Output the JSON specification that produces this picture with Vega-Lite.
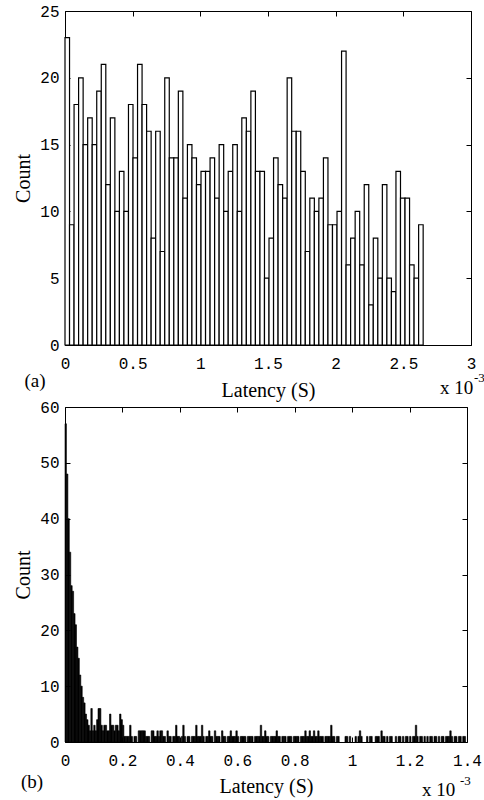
{
  "$schema": "https://vega.github.io/schema/vega-lite/v6.json",
  "padding": {"left": 13, "top": 2, "right": 0, "bottom": 0},
  "background": "white",
  "spacing": -3,
  "datasets": {
    "a": [
      {"lo":0,"hi":0.0335,"n":23},{"lo":0.0335,"hi":0.067,"n":9},{"lo":0.067,"hi":0.1005,"n":18},{"lo":0.1005,"hi":0.134,"n":20},
      {"lo":0.134,"hi":0.1675,"n":15},{"lo":0.1675,"hi":0.201,"n":17},{"lo":0.201,"hi":0.2345,"n":15},{"lo":0.2345,"hi":0.268,"n":19},
      {"lo":0.268,"hi":0.3015,"n":21},{"lo":0.3015,"hi":0.335,"n":12},{"lo":0.335,"hi":0.3685,"n":17},{"lo":0.3685,"hi":0.402,"n":10},
      {"lo":0.402,"hi":0.4355,"n":13},{"lo":0.4355,"hi":0.469,"n":10},{"lo":0.469,"hi":0.5025,"n":18},{"lo":0.5025,"hi":0.536,"n":14},
      {"lo":0.536,"hi":0.5695,"n":21},{"lo":0.5695,"hi":0.603,"n":18},{"lo":0.603,"hi":0.6365,"n":16},{"lo":0.6365,"hi":0.67,"n":8},
      {"lo":0.67,"hi":0.7035,"n":16},{"lo":0.7035,"hi":0.737,"n":7},{"lo":0.737,"hi":0.7705,"n":20},{"lo":0.7705,"hi":0.804,"n":14},
      {"lo":0.804,"hi":0.8375,"n":14},{"lo":0.8375,"hi":0.871,"n":19},{"lo":0.871,"hi":0.9045,"n":11},{"lo":0.9045,"hi":0.938,"n":15},
      {"lo":0.938,"hi":0.9715,"n":14},{"lo":0.9715,"hi":1.005,"n":12},{"lo":1.005,"hi":1.0385,"n":13},{"lo":1.0385,"hi":1.072,"n":13},
      {"lo":1.072,"hi":1.1055,"n":14},{"lo":1.1055,"hi":1.139,"n":11},{"lo":1.139,"hi":1.1725,"n":15},{"lo":1.1725,"hi":1.206,"n":10},
      {"lo":1.206,"hi":1.2395,"n":13},{"lo":1.2395,"hi":1.273,"n":15},{"lo":1.273,"hi":1.3065,"n":10},{"lo":1.3065,"hi":1.34,"n":17},
      {"lo":1.34,"hi":1.3735,"n":16},{"lo":1.3735,"hi":1.407,"n":19},{"lo":1.407,"hi":1.4405,"n":13},{"lo":1.4405,"hi":1.474,"n":13},
      {"lo":1.474,"hi":1.5075,"n":5},{"lo":1.5075,"hi":1.541,"n":8},{"lo":1.541,"hi":1.5745,"n":14},{"lo":1.5745,"hi":1.608,"n":12},
      {"lo":1.608,"hi":1.6415,"n":11},{"lo":1.6415,"hi":1.675,"n":20},{"lo":1.675,"hi":1.7085,"n":16},{"lo":1.7085,"hi":1.742,"n":16},
      {"lo":1.742,"hi":1.7755,"n":13},{"lo":1.7755,"hi":1.809,"n":7},{"lo":1.809,"hi":1.8425,"n":11},{"lo":1.8425,"hi":1.876,"n":10},
      {"lo":1.876,"hi":1.9095,"n":11},{"lo":1.9095,"hi":1.943,"n":14},{"lo":1.943,"hi":1.9765,"n":9},{"lo":1.9765,"hi":2.01,"n":9},
      {"lo":2.01,"hi":2.0435,"n":10},{"lo":2.0435,"hi":2.077,"n":22},{"lo":2.077,"hi":2.1105,"n":6},{"lo":2.1105,"hi":2.144,"n":8},
      {"lo":2.144,"hi":2.1775,"n":10},{"lo":2.1775,"hi":2.211,"n":6},{"lo":2.211,"hi":2.2445,"n":12},{"lo":2.2445,"hi":2.278,"n":3},
      {"lo":2.278,"hi":2.3115,"n":8},{"lo":2.3115,"hi":2.345,"n":5},{"lo":2.345,"hi":2.3785,"n":12},{"lo":2.3785,"hi":2.412,"n":5},
      {"lo":2.412,"hi":2.4455,"n":4},{"lo":2.4455,"hi":2.479,"n":13},{"lo":2.479,"hi":2.5125,"n":11},{"lo":2.5125,"hi":2.546,"n":11},
      {"lo":2.546,"hi":2.5795,"n":6},{"lo":2.5795,"hi":2.613,"n":5},{"lo":2.613,"hi":2.6465,"n":9}
    ],
    "b": [
      {"lo":0,"hi":0.005,"n":57},{"lo":0.005,"hi":0.01,"n":48},{"lo":0.01,"hi":0.015,"n":40},{"lo":0.015,"hi":0.02,"n":34},
      {"lo":0.02,"hi":0.025,"n":28},{"lo":0.025,"hi":0.03,"n":27},{"lo":0.03,"hi":0.035,"n":23},{"lo":0.035,"hi":0.04,"n":21},
      {"lo":0.04,"hi":0.045,"n":17},{"lo":0.045,"hi":0.05,"n":15},{"lo":0.05,"hi":0.055,"n":12},{"lo":0.055,"hi":0.06,"n":10},
      {"lo":0.06,"hi":0.065,"n":8},{"lo":0.065,"hi":0.07,"n":7},{"lo":0.07,"hi":0.075,"n":5},{"lo":0.075,"hi":0.08,"n":4},
      {"lo":0.08,"hi":0.085,"n":3},{"lo":0.085,"hi":0.09,"n":2},{"lo":0.09,"hi":0.095,"n":6},{"lo":0.095,"hi":0.1,"n":2},
      {"lo":0.1,"hi":0.105,"n":3},{"lo":0.105,"hi":0.11,"n":2},{"lo":0.11,"hi":0.115,"n":4},{"lo":0.115,"hi":0.12,"n":6},
      {"lo":0.12,"hi":0.125,"n":6},{"lo":0.125,"hi":0.13,"n":3},{"lo":0.13,"hi":0.135,"n":2},{"lo":0.135,"hi":0.14,"n":3},
      {"lo":0.14,"hi":0.145,"n":3},{"lo":0.145,"hi":0.15,"n":2},{"lo":0.15,"hi":0.155,"n":2},{"lo":0.155,"hi":0.16,"n":5},
      {"lo":0.16,"hi":0.165,"n":3},{"lo":0.165,"hi":0.17,"n":3},{"lo":0.17,"hi":0.175,"n":2},{"lo":0.175,"hi":0.18,"n":3},
      {"lo":0.18,"hi":0.185,"n":3},{"lo":0.185,"hi":0.19,"n":2},{"lo":0.19,"hi":0.195,"n":5},{"lo":0.195,"hi":0.2,"n":4},
      {"lo":0.2,"hi":0.205,"n":3},{"lo":0.205,"hi":0.21,"n":1},{"lo":0.21,"hi":0.215,"n":1},{"lo":0.215,"hi":0.22,"n":1},
      {"lo":0.22,"hi":0.225,"n":1},{"lo":0.225,"hi":0.23,"n":3},{"lo":0.23,"hi":0.235,"n":1},{"lo":0.24,"hi":0.245,"n":1},
      {"lo":0.245,"hi":0.25,"n":1},{"lo":0.255,"hi":0.26,"n":2},{"lo":0.26,"hi":0.265,"n":2},{"lo":0.265,"hi":0.27,"n":2},
      {"lo":0.27,"hi":0.275,"n":2},{"lo":0.275,"hi":0.28,"n":2},{"lo":0.28,"hi":0.285,"n":1},{"lo":0.285,"hi":0.29,"n":1},
      {"lo":0.29,"hi":0.295,"n":1},{"lo":0.3,"hi":0.305,"n":2},{"lo":0.305,"hi":0.31,"n":2},{"lo":0.31,"hi":0.315,"n":1},
      {"lo":0.315,"hi":0.32,"n":1},{"lo":0.32,"hi":0.325,"n":2},{"lo":0.325,"hi":0.33,"n":1},{"lo":0.33,"hi":0.335,"n":2},
      {"lo":0.335,"hi":0.34,"n":2},{"lo":0.34,"hi":0.345,"n":1},{"lo":0.345,"hi":0.35,"n":1},{"lo":0.355,"hi":0.36,"n":2},
      {"lo":0.36,"hi":0.365,"n":1},{"lo":0.365,"hi":0.37,"n":1},{"lo":0.375,"hi":0.38,"n":1},{"lo":0.38,"hi":0.385,"n":1},
      {"lo":0.385,"hi":0.39,"n":3},{"lo":0.39,"hi":0.395,"n":1},{"lo":0.395,"hi":0.4,"n":1},{"lo":0.405,"hi":0.41,"n":1},
      {"lo":0.41,"hi":0.415,"n":3},{"lo":0.415,"hi":0.42,"n":1},{"lo":0.425,"hi":0.43,"n":1},{"lo":0.43,"hi":0.435,"n":1},
      {"lo":0.44,"hi":0.445,"n":1},{"lo":0.445,"hi":0.45,"n":1},{"lo":0.45,"hi":0.455,"n":1},{"lo":0.455,"hi":0.46,"n":3},
      {"lo":0.46,"hi":0.465,"n":1},{"lo":0.465,"hi":0.47,"n":1},{"lo":0.47,"hi":0.475,"n":1},{"lo":0.475,"hi":0.48,"n":3},
      {"lo":0.48,"hi":0.485,"n":1},{"lo":0.49,"hi":0.495,"n":1},{"lo":0.495,"hi":0.5,"n":1},{"lo":0.5,"hi":0.505,"n":2},
      {"lo":0.505,"hi":0.51,"n":1},{"lo":0.51,"hi":0.515,"n":1},{"lo":0.52,"hi":0.525,"n":2},{"lo":0.525,"hi":0.53,"n":1},
      {"lo":0.53,"hi":0.535,"n":1},{"lo":0.535,"hi":0.54,"n":1},{"lo":0.545,"hi":0.55,"n":2},{"lo":0.55,"hi":0.555,"n":1},
      {"lo":0.555,"hi":0.56,"n":1},{"lo":0.565,"hi":0.57,"n":1},{"lo":0.57,"hi":0.575,"n":1},{"lo":0.575,"hi":0.58,"n":2},
      {"lo":0.58,"hi":0.585,"n":1},{"lo":0.585,"hi":0.59,"n":1},{"lo":0.59,"hi":0.595,"n":1},{"lo":0.595,"hi":0.6,"n":2},
      {"lo":0.6,"hi":0.605,"n":1},{"lo":0.61,"hi":0.615,"n":1},{"lo":0.615,"hi":0.62,"n":1},{"lo":0.62,"hi":0.625,"n":1},
      {"lo":0.625,"hi":0.63,"n":1},{"lo":0.635,"hi":0.64,"n":1},{"lo":0.64,"hi":0.645,"n":1},{"lo":0.645,"hi":0.65,"n":1},
      {"lo":0.65,"hi":0.655,"n":1},{"lo":0.66,"hi":0.665,"n":1},{"lo":0.665,"hi":0.67,"n":1},{"lo":0.67,"hi":0.675,"n":1},
      {"lo":0.675,"hi":0.68,"n":1},{"lo":0.68,"hi":0.685,"n":3},{"lo":0.685,"hi":0.69,"n":1},{"lo":0.69,"hi":0.695,"n":1},
      {"lo":0.695,"hi":0.7,"n":2},{"lo":0.7,"hi":0.705,"n":1},{"lo":0.705,"hi":0.71,"n":1},{"lo":0.715,"hi":0.72,"n":1},
      {"lo":0.72,"hi":0.725,"n":1},{"lo":0.725,"hi":0.73,"n":1},{"lo":0.73,"hi":0.735,"n":1},{"lo":0.735,"hi":0.74,"n":2},
      {"lo":0.74,"hi":0.745,"n":1},{"lo":0.745,"hi":0.75,"n":1},{"lo":0.755,"hi":0.76,"n":1},{"lo":0.76,"hi":0.765,"n":1},
      {"lo":0.765,"hi":0.77,"n":1},{"lo":0.775,"hi":0.78,"n":1},{"lo":0.78,"hi":0.785,"n":1},{"lo":0.785,"hi":0.79,"n":1},
      {"lo":0.795,"hi":0.8,"n":1},{"lo":0.8,"hi":0.805,"n":1},{"lo":0.805,"hi":0.81,"n":1},{"lo":0.81,"hi":0.815,"n":1},
      {"lo":0.82,"hi":0.825,"n":1},{"lo":0.825,"hi":0.83,"n":1},{"lo":0.83,"hi":0.835,"n":1},{"lo":0.835,"hi":0.84,"n":2},
      {"lo":0.84,"hi":0.845,"n":1},{"lo":0.845,"hi":0.85,"n":1},{"lo":0.85,"hi":0.855,"n":2},{"lo":0.855,"hi":0.86,"n":1},
      {"lo":0.86,"hi":0.865,"n":1},{"lo":0.865,"hi":0.87,"n":2},{"lo":0.87,"hi":0.875,"n":1},{"lo":0.875,"hi":0.88,"n":1},
      {"lo":0.88,"hi":0.885,"n":2},{"lo":0.885,"hi":0.89,"n":1},{"lo":0.89,"hi":0.895,"n":1},{"lo":0.895,"hi":0.9,"n":1},
      {"lo":0.905,"hi":0.91,"n":1},{"lo":0.91,"hi":0.915,"n":1},{"lo":0.915,"hi":0.92,"n":1},{"lo":0.92,"hi":0.925,"n":1},
      {"lo":0.925,"hi":0.93,"n":3},{"lo":0.93,"hi":0.935,"n":1},{"lo":0.935,"hi":0.94,"n":1},{"lo":0.945,"hi":0.95,"n":1},
      {"lo":0.95,"hi":0.955,"n":1},{"lo":0.975,"hi":0.98,"n":1},{"lo":0.98,"hi":0.985,"n":1},{"lo":0.99,"hi":0.995,"n":1},
      {"lo":1.01,"hi":1.015,"n":1},{"lo":1.02,"hi":1.025,"n":1},{"lo":1.025,"hi":1.03,"n":2},{"lo":1.03,"hi":1.035,"n":1},
      {"lo":1.05,"hi":1.055,"n":1},{"lo":1.06,"hi":1.065,"n":1},{"lo":1.065,"hi":1.07,"n":1},{"lo":1.08,"hi":1.085,"n":1},
      {"lo":1.085,"hi":1.09,"n":1},{"lo":1.09,"hi":1.095,"n":1},{"lo":1.1,"hi":1.105,"n":2},{"lo":1.105,"hi":1.11,"n":1},
      {"lo":1.11,"hi":1.115,"n":1},{"lo":1.12,"hi":1.125,"n":1},{"lo":1.13,"hi":1.135,"n":1},{"lo":1.135,"hi":1.14,"n":1},
      {"lo":1.15,"hi":1.155,"n":1},{"lo":1.16,"hi":1.165,"n":1},{"lo":1.165,"hi":1.17,"n":1},{"lo":1.175,"hi":1.18,"n":1},
      {"lo":1.185,"hi":1.19,"n":1},{"lo":1.19,"hi":1.195,"n":1},{"lo":1.2,"hi":1.205,"n":1},{"lo":1.21,"hi":1.215,"n":1},
      {"lo":1.215,"hi":1.22,"n":1},{"lo":1.22,"hi":1.225,"n":3},{"lo":1.225,"hi":1.23,"n":1},{"lo":1.235,"hi":1.24,"n":1},
      {"lo":1.24,"hi":1.245,"n":1},{"lo":1.25,"hi":1.255,"n":1},{"lo":1.26,"hi":1.265,"n":1},{"lo":1.27,"hi":1.275,"n":1},
      {"lo":1.275,"hi":1.28,"n":1},{"lo":1.285,"hi":1.29,"n":1},{"lo":1.29,"hi":1.295,"n":1},{"lo":1.3,"hi":1.305,"n":1},
      {"lo":1.31,"hi":1.315,"n":1},{"lo":1.315,"hi":1.32,"n":1},{"lo":1.325,"hi":1.33,"n":1},{"lo":1.33,"hi":1.335,"n":1},
      {"lo":1.335,"hi":1.34,"n":1},{"lo":1.34,"hi":1.345,"n":2},{"lo":1.345,"hi":1.35,"n":1},{"lo":1.355,"hi":1.36,"n":1},
      {"lo":1.36,"hi":1.365,"n":1},{"lo":1.37,"hi":1.375,"n":1},{"lo":1.375,"hi":1.38,"n":1},{"lo":1.385,"hi":1.39,"n":1},
      {"lo":1.39,"hi":1.395,"n":1}
    ]
  },
  "vconcat": [
    {
      "width": 406,
      "height": 334,
      "data": {"name": "a"},
      "layer": [
        {
          "mark": {"type": "bar", "fill": "white", "stroke": "black", "strokeWidth": 1.2},
          "encoding": {
            "x": {"field": "lo", "type": "quantitative", "scale": {"domain": [0, 3], "nice": false},
                  "axis": {"orient": "bottom", "values": [0, 0.5, 1, 1.5, 2, 2.5, 3], "format": "~g", "labelPadding": 15, "title": "Latency (S)", "titlePadding": 9}},
            "x2": {"field": "hi"},
            "y": {"field": "n", "type": "quantitative", "scale": {"domain": [0, 25], "nice": false},
                  "axis": {"orient": "left", "values": [0, 5, 10, 15, 20, 25], "labelPadding": 11, "title": "Count", "titlePadding": 6}},
            "y2": {"datum": 0}
          }
        },
        {
          "data": {"values": [{"t": "(a)"}]},
          "mark": {"type": "text", "font": "Liberation Serif", "fontSize": 19, "align": "center", "baseline": "middle", "dx": -30, "dy": 36, "color": "black"},
          "encoding": {
            "x": {"datum": 0, "type": "quantitative", "axis": {"orient": "top", "values": [0, 0.5, 1, 1.5, 2, 2.5, 3], "labels": false, "title": null}},
            "y": {"datum": 0, "type": "quantitative", "axis": {"orient": "right", "values": [0, 5, 10, 15, 20, 25], "labels": false, "title": null}},
            "text": {"field": "t"}
          }
        },
        {
          "data": {"values": [{"t": "x 10"}]},
          "mark": {"type": "text", "font": "Liberation Serif", "fontSize": 19, "align": "left", "baseline": "middle", "dx": -31, "dy": 43, "color": "black"},
          "encoding": {
            "x": {"datum": 3, "type": "quantitative", "axis": null},
            "y": {"datum": 0, "type": "quantitative", "axis": null},
            "text": {"field": "t"}
          }
        },
        {
          "data": {"values": [{"t": "-3"}]},
          "mark": {"type": "text", "font": "Liberation Serif", "fontSize": 13, "align": "left", "baseline": "middle", "dx": 3, "dy": 33, "color": "black"},
          "encoding": {
            "x": {"datum": 3, "type": "quantitative", "axis": null},
            "y": {"datum": 0, "type": "quantitative", "axis": null},
            "text": {"field": "t"}
          }
        }
      ],
      "resolve": {"axis": {"x": "independent", "y": "independent"}}
    },
    {
      "width": 402,
      "height": 335,
      "data": {"name": "b"},
      "layer": [
        {
          "mark": {"type": "bar", "fill": "black", "stroke": "black", "strokeWidth": 0.6},
          "encoding": {
            "x": {"field": "lo", "type": "quantitative", "scale": {"domain": [0, 1.4], "nice": false},
                  "axis": {"orient": "bottom", "values": [0, 0.2, 0.4, 0.6, 0.8, 1, 1.2, 1.4], "format": "~g", "labelPadding": 15, "title": "Latency (S)", "titlePadding": 8}},
            "x2": {"field": "hi"},
            "y": {"field": "n", "type": "quantitative", "scale": {"domain": [0, 60], "nice": false},
                  "axis": {"orient": "left", "values": [0, 10, 20, 30, 40, 50, 60], "labelPadding": 11, "title": "Count", "titlePadding": 6}},
            "y2": {"datum": 0}
          }
        },
        {
          "data": {"values": [{"t": "(b)"}]},
          "mark": {"type": "text", "font": "Liberation Serif", "fontSize": 19, "align": "center", "baseline": "middle", "dx": -33, "dy": 40, "color": "black"},
          "encoding": {
            "x": {"datum": 0, "type": "quantitative", "axis": {"orient": "top", "values": [0, 0.2, 0.4, 0.6, 0.8, 1, 1.2, 1.4], "labels": false, "title": null}},
            "y": {"datum": 0, "type": "quantitative", "axis": {"orient": "right", "values": [0, 10, 20, 30, 40, 50, 60], "labels": false, "title": null}},
            "text": {"field": "t"}
          }
        },
        {
          "data": {"values": [{"t": "x 10"}]},
          "mark": {"type": "text", "font": "Liberation Serif", "fontSize": 19, "align": "left", "baseline": "middle", "dx": -45, "dy": 48, "color": "black"},
          "encoding": {
            "x": {"datum": 1.4, "type": "quantitative", "axis": null},
            "y": {"datum": 0, "type": "quantitative", "axis": null},
            "text": {"field": "t"}
          }
        },
        {
          "data": {"values": [{"t": "-3"}]},
          "mark": {"type": "text", "font": "Liberation Serif", "fontSize": 13, "align": "left", "baseline": "middle", "dx": -7, "dy": 39, "color": "black"},
          "encoding": {
            "x": {"datum": 1.4, "type": "quantitative", "axis": null},
            "y": {"datum": 0, "type": "quantitative", "axis": null},
            "text": {"field": "t"}
          }
        }
      ],
      "resolve": {"axis": {"x": "independent", "y": "independent"}}
    }
  ],
  "config": {
    "view": {"stroke": "black", "strokeWidth": 1},
    "axis": {
      "grid": false, "domain": false, "ticks": true, "tickColor": "black", "tickSize": -5, "tickWidth": 1,
      "labelFont": "Liberation Mono", "labelFontSize": 16, "labelColor": "black", "labelFlush": false, "labelOverlap": false,
      "titleFont": "Liberation Serif", "titleFontSize": 20, "titleFontWeight": "normal", "titleColor": "black"
    }
  }
}
